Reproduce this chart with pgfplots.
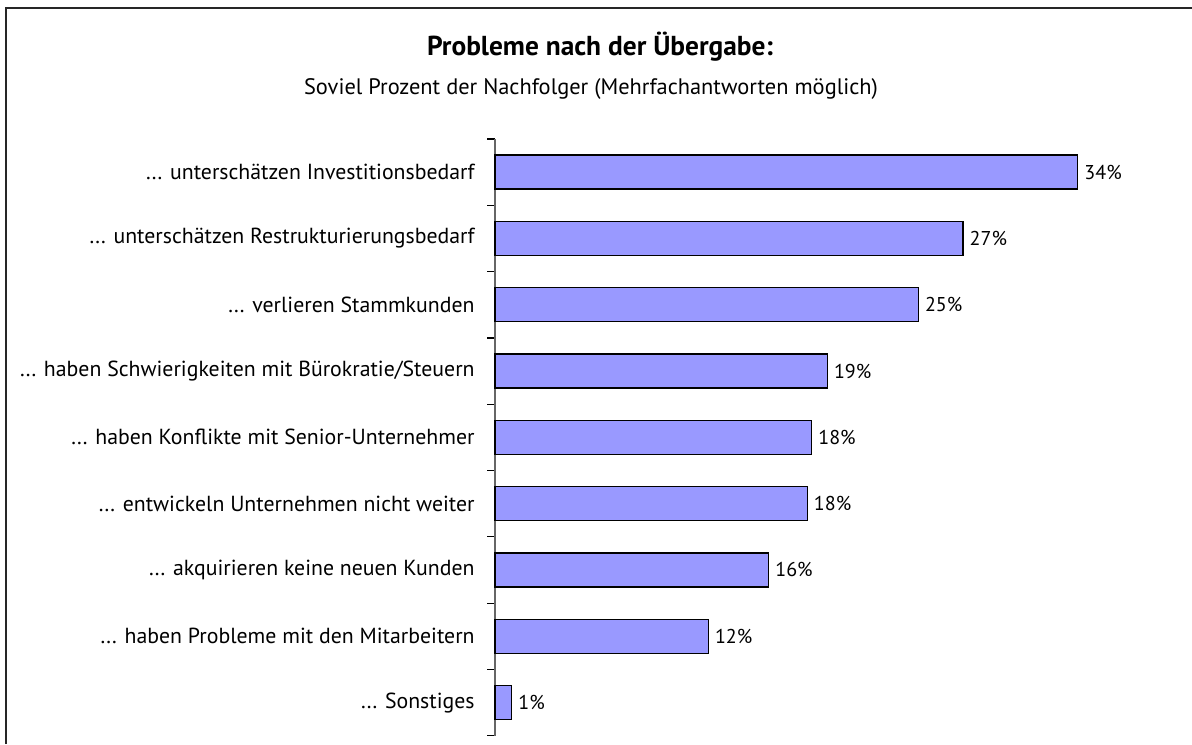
\documentclass[border=0pt]{standalone}
\usepackage{fontspec}
\setmainfont{PT Sans}
\usepackage{pgfplots}
\usepackage{pgfplotstable}
\pgfplotsset{compat=1.18}
\definecolor{barfill}{HTML}{9999FF}
\newcommand{\dd}{.\kern0.05em.\kern0.05em.}
\pgfplotstableread{
x y v
34.28 0 34
27.53 1 27
24.90 2 25
19.55 3 19
18.63 4 18
18.37 5 18
16.10 6 16
12.55 7 12
0.98 8 1
}\datatable
\begin{document}
\begin{tikzpicture}[x=1pt,y=1pt]
\path[use as bounding box] (0pt,0pt) rectangle (596pt,372pt);
\draw[line width=1pt, black!85] (3pt,0pt) -- (3pt,367.75pt) -- (596pt,367.75pt);
\node[font=\bfseries\fontsize{13.7}{16}\selectfont, anchor=base] at (300pt,344pt) {Probleme nach der Übergabe:};
\node[font=\fontsize{11.2}{13}\selectfont, anchor=base] at (295.5pt,324.5pt) {Soviel Prozent der Nachfolger (Mehrfachantworten möglich)};
\begin{axis}[
  at={(247.5pt,4.15pt)}, anchor=south west,
  scale only axis, width=340pt, height=298.35pt,
  xmin=0, xmax=40, ymin=-0.5, ymax=8.5, y dir=reverse,
  axis x line=none, axis y line=left,
  axis line style={-, black!60, line width=0.6pt},
  ytick={0,1,2,3,4,5,6,7,8},
  yticklabels={{\dd{} unterschätzen Investitionsbedarf},{\dd{} unterschätzen Restrukturierungsbedarf},{\dd{} verlieren Stammkunden},{\dd{} haben Schwierigkeiten mit Bürokratie/Steuern},{\dd{} haben Konflikte mit Senior-Unternehmer},{\dd{} entwickeln Unternehmen nicht weiter},{\dd{} akquirieren keine neuen Kunden},{\dd{} haben Probleme mit den Mitarbeitern},{\dd{} Sonstiges}},
  minor ytick={-0.5,0.5,1.5,2.5,3.5,4.5,5.5,6.5,7.5,8.5},
  major tick length=0pt, minor tick length=4pt,
  tick align=outside,
  tick style={black, line width=0.6pt},
  yticklabel style={font=\fontsize{10.9}{12}\selectfont, anchor=east, inner sep=0pt, xshift=-10pt},
  xbar, bar width=17pt,
  point meta=explicit,
  /pgf/number format/assume math mode=true,
  nodes near coords={\pgfmathprintnumber{\pgfplotspointmeta}\%},
  nodes near coords style={font=\fontsize{10}{12}\selectfont, anchor=west, inner sep=0pt, xshift=3pt},
  clip=false,
]
\addplot[fill=barfill, draw=black, line width=0.7pt] table[x=x, y=y, meta=v] {\datatable};
\end{axis}
\end{tikzpicture}
\end{document}
